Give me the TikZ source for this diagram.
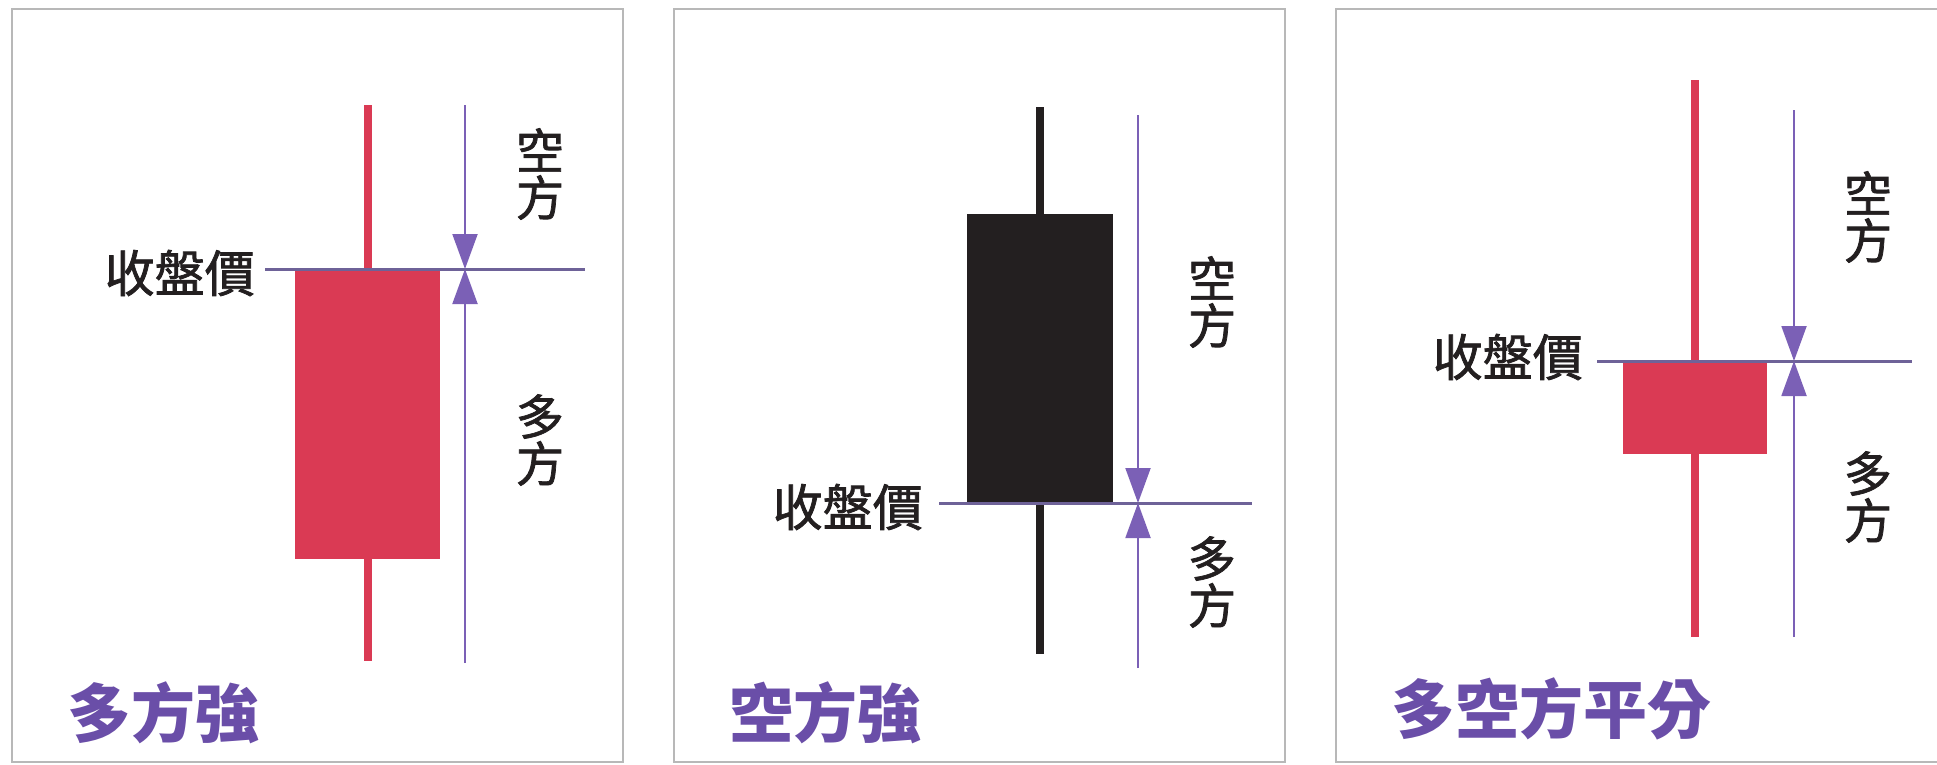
\documentclass[tikz,border=0pt]{standalone}
\usepackage{fontspec}
\usepackage{xcolor}
\usepackage{tikz}
\usetikzlibrary{arrows.meta,positioning,calc}
\newfontfamily\cjk{Noto Sans CJK TC}
\newfontfamily\cjkmid[FakeBold=1.5]{Noto Sans CJK TC}
\definecolor{candleRed}{HTML}{DA3A54}
\definecolor{candleBlack}{HTML}{231F20}
\definecolor{forcePurple}{HTML}{7B60B6}
\definecolor{closePurple}{HTML}{6E6298}
\definecolor{titlePurple}{HTML}{6A4EA8}
\definecolor{frameGray}{HTML}{B8B8B8}
\tikzset{
  panel/.style={draw=frameGray, line width=2pt, minimum width=611pt, minimum height=753pt, inner sep=0pt, outer sep=0pt}, % one chart box
  candle/.style={draw=none, fill=#1, inner sep=0pt, outer sep=0pt}, % body and wick
  closeline/.style={draw=closePurple, line width=3pt},
  force/.style={draw=forcePurple, line width=2pt, -{Triangle[length=35pt,width=25pt]}},
  price/.style={font=\cjkmid\fontsize{50}{50}\selectfont, text=candleBlack, inner sep=0pt},
  side/.style={font=\cjkmid\fontsize{48}{47}\selectfont, text=candleBlack, align=center, inner sep=0pt},
  title/.style={font=\cjk\bfseries\fontsize{64}{64}\selectfont, text=titlePurple, inner sep=0pt}
}

\begin{document}
\begin{tikzpicture}[x=1pt, y=-1pt]
    \useasboundingbox (0,0) rectangle (1937,764);

    % Panels
    \node[panel, anchor=north west] (panelBull) at (12,9) {};
    \node[panel, anchor=north west] (panelBear) at (674,9) {};
    \node[panel, anchor=north west] (panelEven) at (1336,9) {};

    % Candles
    \node[candle=candleRed, minimum width=8pt, minimum height=556pt] (wickBull) at (368,383) {};
    \node[candle=candleRed, minimum width=145pt, minimum height=290pt, anchor=north west] (bodyBull) at (295,269) {};
    \node[candle=candleBlack, minimum width=8pt, minimum height=547pt] (wickBear) at (1040,380.5) {};
    \node[candle=candleBlack, minimum width=146pt, minimum height=289pt, anchor=north west] (bodyBear) at (967,214) {};
    \node[candle=candleRed, minimum width=8pt, minimum height=557pt] (wickEven) at (1695,358.5) {};
    \node[candle=candleRed, minimum width=144pt, minimum height=93pt, anchor=north west] (bodyEven) at (1623,361) {};

    % Close lines
    \coordinate (closeBull) at (265,269);
    \coordinate (closeBullEnd) at (585,269);
    \coordinate (closeBear) at (939,503);
    \coordinate (closeBearEnd) at (1252,503);
    \coordinate (closeEven) at (1597,361);
    \coordinate (closeEvenEnd) at (1912,361);
    \draw[closeline] (closeBull) -- (closeBullEnd);
    \draw[closeline] (closeBear) -- (closeBearEnd);
    \draw[closeline] (closeEven) -- (closeEvenEnd);

    % Force arrows
    \coordinate (forceTopBull) at (465,105);
    \coordinate (forceMidBull) at (465,269);
    \coordinate (forceBotBull) at (465,663);
    \coordinate (forceTopBear) at (1138,115);
    \coordinate (forceMidBear) at (1138,503);
    \coordinate (forceBotBear) at (1138,668);
    \coordinate (forceTopEven) at (1794,110);
    \coordinate (forceMidEven) at (1794,361);
    \coordinate (forceBotEven) at (1794,637);

    % Labels
    \node[price, left=10pt of closeBull, yshift=-4pt] (priceBull) {收盤價};
    \node[price, left=16pt of closeBear, yshift=-4pt] (priceBear) {收盤價};
    \node[price, left=14pt of closeEven, yshift=4pt] (priceEven) {收盤價};
    \node[side] (shortBull) at (540,174) {空\\方};
    \node[side] (longBull) at (540,440) {多\\方};
    \node[side] (shortBear) at (1212,302) {空\\方};
    \node[side] (longBear) at (1212,582) {多\\方};
    \node[side] (shortEven) at (1868,217) {空\\方};
    \node[side] (longEven) at (1868,497) {多\\方};
    \node[title, anchor=west] (titleBull) at ($(panelBull.south west)+(55,-49)$) {多方強};
    \node[title, anchor=west] (titleBear) at ($(panelBear.south west)+(55,-49)$) {空方強};
    \node[title, anchor=west] (titleEven) at ($(panelEven.south west)+(55,-53)$) {多空方平分};

    % Edges
    \draw[force] (forceTopBull) -- (forceMidBull);
    \draw[force] (forceBotBull) -- (forceMidBull);
    \draw[force] (forceTopBear) -- (forceMidBear);
    \draw[force] (forceBotBear) -- (forceMidBear);
    \draw[force] (forceTopEven) -- (forceMidEven);
    \draw[force] (forceBotEven) -- (forceMidEven);

\end{tikzpicture}
\end{document}
